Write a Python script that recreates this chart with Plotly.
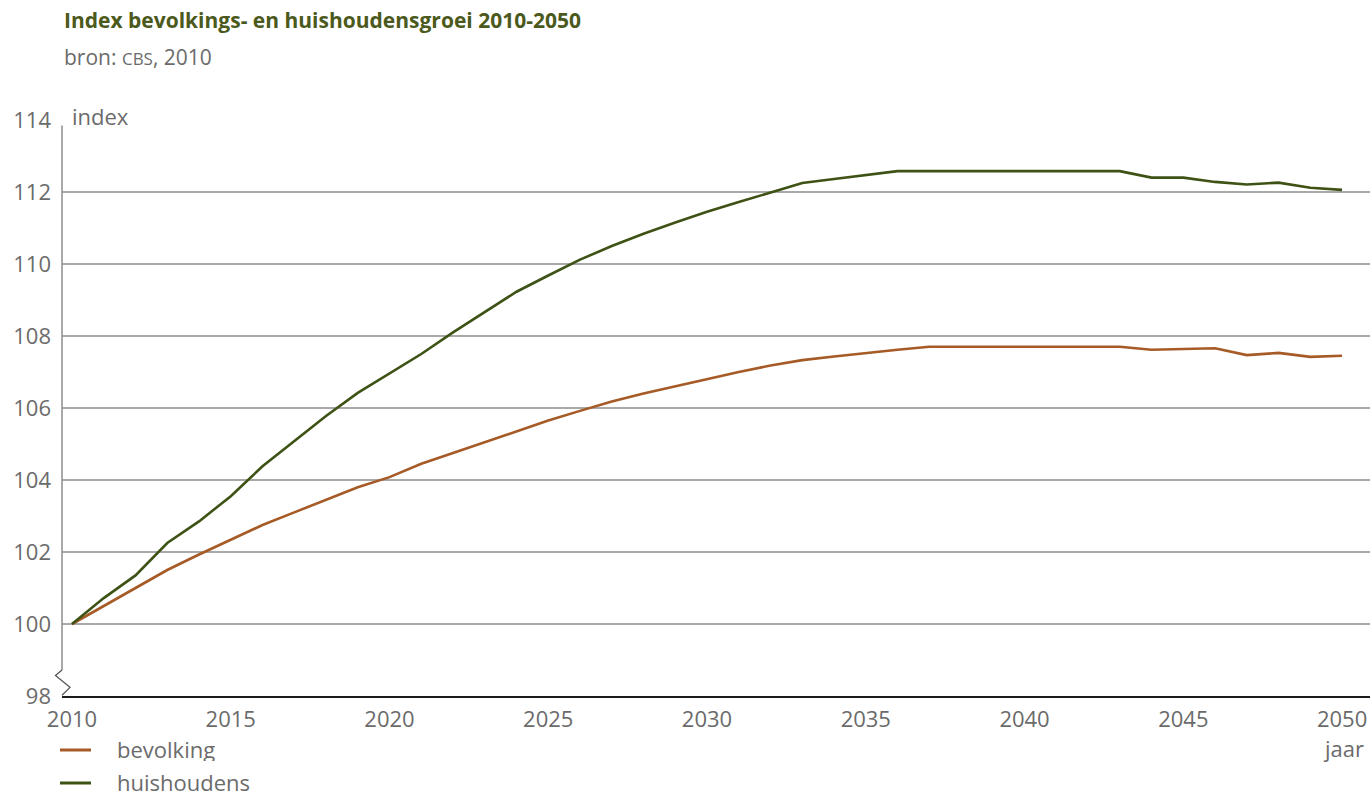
import plotly.graph_objects as go

years = list(range(2010, 2051))

bevolking = [100.0, 100.5, 101.0, 101.5, 101.93, 102.35, 102.75, 103.1, 103.45, 103.8,
             104.08, 104.45, 104.75, 105.05, 105.35, 105.65, 105.92, 106.18, 106.4, 106.6,
             106.82, 107.0, 107.18, 107.33, 107.43, 107.53, 107.62, 107.7, 107.7, 107.7,
             107.7, 107.7, 107.7, 107.7, 107.62, 107.64, 107.66, 107.47, 107.53, 107.42,
             107.45]

huishoudens = [100.0, 100.72, 101.35, 102.25, 102.85, 103.55, 104.38, 105.08, 105.78, 106.42,
               106.95, 107.5, 108.1, 108.67, 109.23, 109.68, 110.12, 110.5, 110.84, 111.15,
               111.45, 111.72, 111.98, 112.25, 112.36, 112.47, 112.58, 112.58, 112.58, 112.58,
               112.58, 112.58, 112.58, 112.58, 112.4, 112.4, 112.28, 112.21, 112.26, 112.12,
               112.06]

series_names = ["bevolking", "huishoudens"]
x_ticks = [2010, 2015, 2020, 2025, 2030, 2035, 2040, 2045, 2050]
y_ticks = [98, 100, 102, 104, 106, 108, 110, 112, 114]

ORANGE = "#a65a26"
GREEN = "#3e5215"
TITLE_GREEN = "#4b5a1c"
GREY_TXT = "#6b6b6b"
FONT = "Open Sans"
FS = 22

W, H = 1370, 796
L, T, B = 62, 120, 100
PW, PH = W - L, H - T - B
px = lambda p: (p - L) / PW          # pixel x -> paper x
py = lambda p: (H - B - p) / PH      # pixel y -> paper y

fig = go.Figure()
for name, vals, col in zip(series_names, [bevolking, huishoudens], [ORANGE, GREEN]):
    fig.add_trace(go.Scatter(x=years, y=vals, mode="lines", name=name,
                             line=dict(color=col, width=2.6), showlegend=False))

# gridlines (excluding bottom axis and top tick)
for v in y_ticks[1:-1]:
    fig.add_shape(type="line", xref="paper", yref="y", x0=0, x1=1, y0=v, y1=v,
                  line=dict(color="#8c8c8c", width=1.5), layer="below")

# vertical axis line with break
fig.add_shape(type="line", xref="paper", yref="y", x0=0, x1=0, y0=98.72, y1=113.85,
              line=dict(color="#8c8c8c", width=1.5))
fig.add_shape(type="path", xref="paper", yref="y",
              path=f"M {px(62)} 98.72 L {px(55.5)} 98.57 L {px(70)} 98.24 L {px(62)} 98.02",
              line=dict(color="#555555", width=1.3))

# legend (drawn below the axis, as in the original)
for i, (name, col) in enumerate(zip(series_names, [ORANGE, GREEN])):
    yy = py(750 + 33 * i)
    fig.add_shape(type="line", xref="paper", yref="paper", x0=px(60), x1=px(91), y0=yy, y1=yy,
                  line=dict(color=col, width=3))
    fig.add_annotation(text=name, xref="paper", yref="paper", x=px(115), y=yy, yshift=1,
                       height=24, valign="middle",
                       xanchor="left", yanchor="middle", showarrow=False,
                       font=dict(family=FONT, size=FS, color=GREY_TXT))

fig.add_annotation(text="index", xref="paper", yref="paper", x=px(70), y=1, yshift=4,
                   xanchor="left", yanchor="middle", showarrow=False,
                   font=dict(family=FONT, size=FS, color=GREY_TXT))
fig.add_annotation(text="jaar", xref="paper", yref="paper", x=px(1366), y=0, yshift=-52,
                   xanchor="right", yanchor="middle", showarrow=False,
                   font=dict(family=FONT, size=FS, color=GREY_TXT))

fig.add_annotation(text="<b>Index bevolkings- en huishoudensgroei 2010-2050</b>", xref="paper",
                   yref="paper", x=0, y=1, yshift=100, xanchor="left", yanchor="middle",
                   showarrow=False, font=dict(family=FONT, size=21, color=TITLE_GREEN))
fig.add_annotation(text="bron: <span style='font-size:17px'>CBS</span>, 2010", xref="paper",
                   yref="paper", x=0, y=1, yshift=63, xanchor="left", yanchor="middle",
                   showarrow=False, font=dict(family=FONT, size=21, color=GREY_TXT))

fig.update_layout(
    width=W, height=H,
    margin=dict(l=L, r=0, t=T, b=B),
    plot_bgcolor="white", paper_bgcolor="white",
    font=dict(family=FONT, size=FS, color=GREY_TXT),
    showlegend=False,
    xaxis=dict(range=[2009.685, 2050.88], tickmode="array", tickvals=x_ticks,
               showgrid=False, zeroline=False, showline=True, linecolor="#1a1a1a", linewidth=2,
               ticks="", ticklabelstandoff=3, tickfont=dict(family=FONT, size=FS, color=GREY_TXT)),
    yaxis=dict(range=[98, 114], tickmode="array", tickvals=y_ticks,
               showgrid=False, zeroline=False, showline=False, ticks="",
               ticklabelstandoff=10, tickfont=dict(family=FONT, size=FS, color=GREY_TXT)),
)

fig.write_html("out.html", config={"displayModeBar": False},
               post_script="document.body.style.margin='0';document.body.style.padding='0';")
